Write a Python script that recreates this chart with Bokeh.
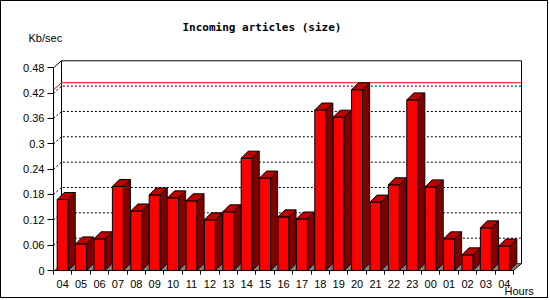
from bokeh.plotting import figure
from bokeh.models import Range1d, FixedTicker, LinearAxis, Label
from bokeh.embed import file_html
from bokeh.resources import INLINE

# ---- data ----
hours = ["04", "05", "06", "07", "08", "09", "10", "11", "12", "13", "14", "15",
         "16", "17", "18", "19", "20", "21", "22", "23", "00", "01", "02", "03", "04"]
values = [0.168, 0.063, 0.075, 0.199, 0.141, 0.179, 0.172, 0.165, 0.120, 0.139,
          0.266, 0.219, 0.127, 0.122, 0.380, 0.363, 0.428, 0.162, 0.203, 0.404,
          0.198, 0.075, 0.037, 0.101, 0.058]
y_ticks = [0, 0.06, 0.12, 0.18, 0.24, 0.3, 0.36, 0.42, 0.48]
y_tick_labels = ["0", "0.06", "0.12", "0.18", "0.24", "0.3", "0.36", "0.42", "0.48"]
title_text = "Incoming articles (size)"
y_unit_text = "Kb/sec"
x_unit_text = "Hours"

# ---- geometry ----
PX_X = 18.4     # pixels per hour slot
PX_Y = 422.3    # pixels per Kb/sec unit
W, H = 548, 298           # canvas (a 1px CSS border surrounds it)
ORIGIN_X, ORIGIN_Y = 52, 269   # canvas pixel of the data origin
n = len(hours)
DEPTH_X, DEPTH_Y = 7 / PX_X, 7 / PX_Y
WALL_X, WALL_Y = 8 / PX_X, 7 / PX_Y
HALF = 0.3

def dx(px):   # image pixel -> data x
    return (px - 1 - ORIGIN_X) / PX_X

def dy(py):   # image pixel -> data y
    return (ORIGIN_Y - (py - 1)) / PX_Y

p = figure(width=W, height=H, output_backend="svg", toolbar_location=None,
           x_range=Range1d(-ORIGIN_X / PX_X, (W - ORIGIN_X) / PX_X),
           y_range=Range1d(-(H - ORIGIN_Y) / PX_Y, ORIGIN_Y / PX_Y),
           min_border=0, x_axis_type=None, y_axis_type=None)
p.styles = {"border": "1px solid black"}
p.background_fill_color = "white"
p.border_fill_color = "white"
p.outline_line_color = None

# ---- axes (fixed at the data origin) ----
centers = [i + 0.5 for i in range(n)]
xaxis = LinearAxis(ticker=FixedTicker(ticks=centers, minor_ticks=list(range(n + 1))),
                   bounds=(0, n), fixed_location=0,
                   major_label_overrides={c: h for c, h in zip(centers, hours)})
xaxis.major_tick_line_color = None
xaxis.major_tick_out = 0
xaxis.major_tick_in = 0
xaxis.minor_tick_out = 4
xaxis.minor_tick_in = 0
xaxis.minor_tick_line_color = "black"
xaxis.major_label_standoff = 5
p.add_layout(xaxis, "below")

yaxis = LinearAxis(ticker=FixedTicker(ticks=y_ticks), bounds=(0, y_ticks[-1]),
                   fixed_location=0,
                   major_label_overrides={t: l for t, l in zip(y_ticks, y_tick_labels)})
yaxis.major_tick_out = 6
yaxis.major_tick_in = 0
yaxis.major_label_standoff = 3
p.add_layout(yaxis, "left")

for ax in (xaxis, yaxis):
    ax.axis_line_color = "black"
    ax.major_label_text_font = "Liberation Sans"
    ax.major_label_text_font_size = "11px"
    ax.major_label_text_color = "black"

# ---- back wall ----
top_y = y_ticks[-1] + WALL_Y
right_x = n + WALL_X
p.quad(left=[WALL_X], right=[right_x], bottom=[WALL_Y], top=[top_y],
       fill_color="white", line_color="black", line_width=1)
grid_vals = y_ticks[1:-1]
p.multi_line(xs=[[0, WALL_X, right_x] for v in grid_vals],
             ys=[[v, v + WALL_Y, v + WALL_Y] for v in grid_vals],
             line_color="black", line_width=1, line_dash="2 2")
vmax = max(values)
p.multi_line(xs=[[0, WALL_X, right_x]], ys=[[vmax, vmax + WALL_Y, vmax + WALL_Y]],
             line_color="#ff0000", line_width=1)

# floor
p.patches(xs=[[0, n, right_x, WALL_X]], ys=[[0, 0, WALL_Y, WALL_Y]],
          fill_color="#808080", line_color=None)
p.segment(x0=[0, n], y0=[y_ticks[-1], 0], x1=[WALL_X, right_x], y1=[top_y, WALL_Y],
          line_color="black", line_width=1)

# ---- bars ----
lefts = [c - HALF for c in centers]
rights = [c + HALF for c in centers]
side_xs = [[r, r + DEPTH_X, r + DEPTH_X, r] for r in rights]
side_ys = [[0, DEPTH_Y, v + DEPTH_Y, v] for v in values]
top_xs = [[l, r, r + DEPTH_X, l + DEPTH_X] for l, r in zip(lefts, rights)]
top_ys = [[v, v, v + DEPTH_Y, v + DEPTH_Y] for v in values]

p.quad(left=lefts, right=rights, bottom=0, top=values,
       fill_color="#ff0000", line_color="black", line_width=1)
p.patches(xs=side_xs, ys=side_ys, fill_color="#800000", line_color="black", line_width=1)
p.patches(xs=top_xs, ys=top_ys, fill_color="#c00000", line_color="black", line_width=1)

# ---- texts ----
p.add_layout(Label(x=dx(182), y=dy(27), text=title_text, text_align="left",
                   text_baseline="middle", text_font="DejaVu Sans Mono",
                   text_font_style="bold", text_font_size="11px", text_color="black"))
p.add_layout(Label(x=dx(28), y=dy(37), text=y_unit_text, text_align="left",
                   text_baseline="middle", text_font="Liberation Sans",
                   text_font_size="11px", text_color="black"))
p.add_layout(Label(x=dx(504), y=dy(290), text=x_unit_text, text_align="left",
                   text_baseline="middle", text_font="Liberation Sans",
                   text_font_size="11px", text_color="black"))

open("out.html", "w").write(file_html(p, INLINE))
